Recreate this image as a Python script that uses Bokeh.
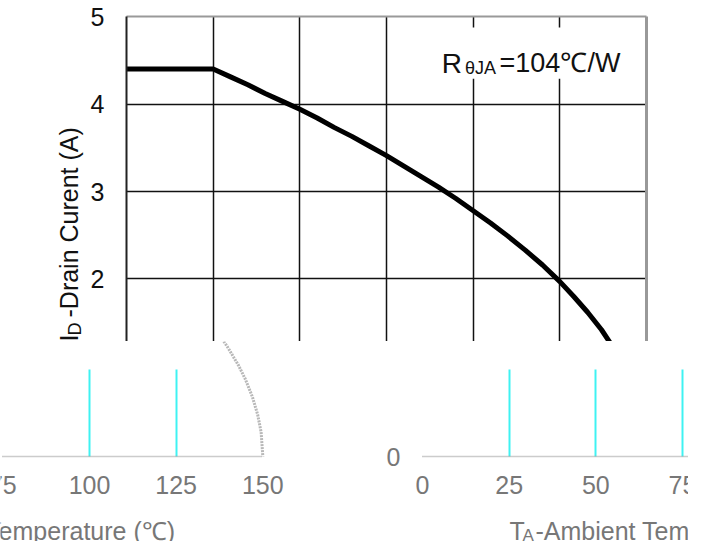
import math
from bokeh.plotting import figure
from bokeh.models import (ColumnDataSource, FixedTicker, Label, BoxAnnotation, Range1d,
                          LinearAxis, Grid)
from bokeh.layouts import column, row
from bokeh.embed import file_html
from bokeh.resources import INLINE

# ---- data ----
temp_c = [0, 25, 30, 35, 40, 45, 50, 55, 60, 65, 70, 75, 80, 85, 90, 95, 100, 105, 110,
          115, 120, 125, 129, 133, 137, 140, 143, 145, 147, 148.5, 149.5, 150]
drain_a = [4.40, 4.40, 4.31, 4.22, 4.12, 4.03, 3.94, 3.84, 3.73, 3.63, 3.52, 3.41, 3.29,
           3.17, 3.05, 2.92, 2.78, 2.64, 2.49, 2.33, 2.16, 1.97, 1.80, 1.62, 1.42, 1.24,
           1.04, 0.88, 0.68, 0.48, 0.28, 0.0]
x_ticks = [0, 25, 50, 75, 100, 125, 150]
y_ticks = [0, 1, 2, 3, 4, 5]
ylabel_main = "I"
ylabel_sub = "D"
ylabel_rest = "-Drain Curent (A)"
xlabel_main = "T"
xlabel_sub = "A"
xlabel_rest = "-Ambient Temperature (℃)"
note_main = "R"
note_sub = "θJA"
note_rest = "=104℃/W"

FONT = "Liberation Sans"
GHOST = "#777777"
CYAN = "#3ff2f2"
INK = "#111111"

src = ColumnDataSource(dict(t=temp_c, i=drain_a))


def bare_axis(ax):
    ax.major_tick_out = 0
    ax.major_tick_in = 0
    ax.minor_tick_out = 0
    ax.minor_tick_in = 0
    ax.major_label_text_font = FONT
    ax.major_label_text_font_size = "25px"


# ---------------- top part ----------------
top = figure(width=705, height=341, x_range=Range1d(-36.35, 167.0), y_range=Range1d(1.2857, 5.1829),
             output_backend="svg", toolbar_location=None, x_axis_location=None, y_axis_location=None,
             min_border_left=0, min_border_right=0, min_border_top=0, min_border_bottom=0)
top.outline_line_color = None
top.background_fill_color = "white"
top.border_fill_color = "white"

ya = LinearAxis(fixed_location=0, ticker=FixedTicker(ticks=y_ticks), bounds=(0, 5))
bare_axis(ya)
ya.axis_line_width = 2
ya.axis_line_color = "#222222"
ya.major_label_text_color = INK
ya.major_label_standoff = 22
top.add_layout(ya, "left")

top.xgrid.ticker = FixedTicker(ticks=x_ticks[1:-1])
top.xgrid.cross_bounds = (y_ticks[0], y_ticks[-1])
top.ygrid.ticker = FixedTicker(ticks=y_ticks[2:-1])
top.ygrid.cross_bounds = (x_ticks[0], x_ticks[-1])
for g in (top.xgrid[0], top.ygrid[0]):
    g.grid_line_color = INK
    g.grid_line_width = 1.5
top.add_layout(Grid(dimension=1, ticker=FixedTicker(ticks=y_ticks[-1:]),
                    cross_bounds=(x_ticks[0], x_ticks[-1]), grid_line_color="#999999",
                    grid_line_width=2))
top.add_layout(Grid(dimension=0, ticker=FixedTicker(ticks=x_ticks[-1:]),
                    cross_bounds=(y_ticks[0], y_ticks[-1]), grid_line_color="#999999",
                    grid_line_width=3))

top.line("t", "i", source=src, line_width=5, line_color="black", line_join="round")

top.add_layout(BoxAnnotation(left=87.7, right=146, bottom=4.29, top=4.874,
                             fill_color="white", fill_alpha=1.0, line_color=None))
for x, y, txt, size in [(90.9, 4.463, note_main, "28px"), (97.6, 4.417, note_sub, "18px"),
                        (107.6, 4.463, note_rest, "27px")]:
    top.add_layout(Label(x=x, y=y, text=txt, text_font=FONT, text_font_size=size,
                         text_color=INK, text_align="left", text_baseline="alphabetic"))

for x, y, txt, size in [(-16.73, 1.286, ylabel_main, "25px"), (-15.0, 1.354, ylabel_sub, "18px"),
                        (-16.73, 1.56, ylabel_rest, "25px")]:
    top.add_layout(Label(x=x, y=y, text=txt, angle=math.pi / 2, text_font=FONT,
                         text_font_size=size, text_color=INK,
                         text_align="left", text_baseline="middle"))


# ---------------- bottom band ----------------
def bottom_fig(width, x_range, xticks, gticks, xbounds):
    f = figure(width=width, height=200, x_range=x_range, y_range=Range1d(-0.9714, 1.3143),
               output_backend="svg", toolbar_location=None,
               x_axis_location=None, y_axis_location=None,
               min_border_left=0, min_border_right=0, min_border_top=0, min_border_bottom=0)
    f.outline_line_color = None
    f.border_fill_color = "white"
    xa = LinearAxis(fixed_location=0, ticker=FixedTicker(ticks=xticks), bounds=xbounds)
    bare_axis(xa)
    xa.axis_line_color = "#999999"
    xa.axis_line_dash = "1 1"
    xa.axis_line_width = 1.5
    xa.major_label_text_color = GHOST
    xa.major_label_standoff = 19
    f.add_layout(xa, "below")
    f.ygrid.grid_line_color = None
    f.xgrid.ticker = FixedTicker(ticks=gticks)
    f.xgrid.cross_bounds = (y_ticks[0], y_ticks[1])
    f.xgrid.grid_line_color = CYAN
    f.xgrid.grid_line_width = 2
    f.line("t", "i", source=src, line_width=3, line_color="#b8b8b8", line_dash="2 1")
    return f


def edge_tick(f, t):
    f.add_layout(Label(x=t, y=-0.331, text=str(t), text_font=FONT, text_font_size="25px",
                       text_color=GHOST, text_align="center", text_baseline="middle"))


bl = bottom_fig(355, Range1d(74.33, 176.73), x_ticks[4:], x_ticks[4:6], (x_ticks[3], x_ticks[-1]))
edge_tick(bl, x_ticks[3])
bl.add_layout(Label(x=124.81, y=-0.857, text=xlabel_rest, text_font=FONT, text_font_size="25px",
                    text_color=GHOST, text_align="right", text_baseline="alphabetic"))

br = bottom_fig(333, Range1d(-19.33, 76.73), x_ticks[:3], x_ticks[1:4], (x_ticks[0], 80))
edge_tick(br, x_ticks[3])
yb = LinearAxis(fixed_location=0, ticker=FixedTicker(ticks=y_ticks[:1]))
bare_axis(yb)
yb.axis_line_color = None
yb.major_label_text_color = GHOST
yb.major_label_standoff = 22
br.add_layout(yb, "left")
for x, y, txt, size in [(25.1, -0.857, xlabel_main, "25px"), (28.85, -0.903, xlabel_sub, "17px"),
                        (32.6, -0.857, xlabel_rest, "25px")]:
    br.add_layout(Label(x=x, y=y, text=txt, text_font=FONT, text_font_size=size,
                        text_color=GHOST, text_align="left", text_baseline="alphabetic"))

layout = column(top, row(bl, br))
open("out.html", "w").write(file_html(layout, INLINE))
